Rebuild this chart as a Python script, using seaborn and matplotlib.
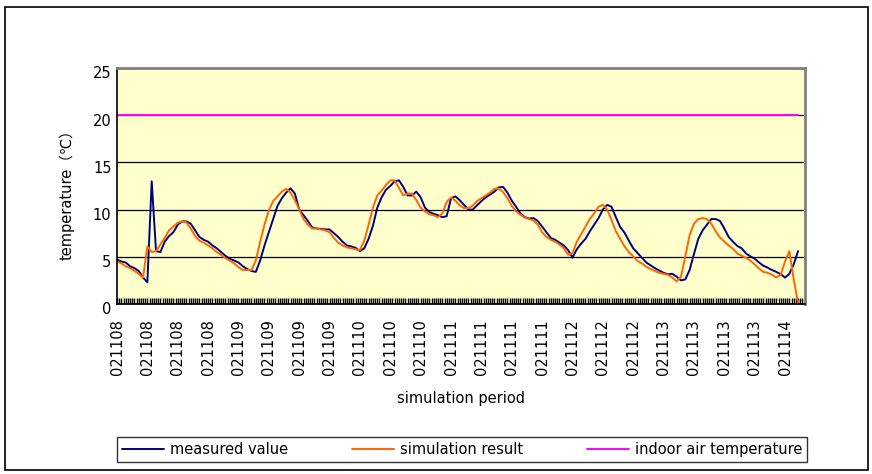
import numpy as np
import pandas as pd
import matplotlib
matplotlib.use("Agg")
import matplotlib.pyplot as plt
import matplotlib.transforms as mtransforms
from matplotlib.patches import Rectangle
import seaborn as sns

# hourly readings
measured = [
    4.7, 4.5, 4.4, 4.0, 3.8, 3.5, 2.8, 2.3, 13.0, 5.6,
    5.5, 6.6, 7.2, 7.6, 8.4, 8.75, 8.75, 8.5, 7.8, 7.1,
    6.8, 6.6, 6.2, 5.9, 5.5, 5.1, 4.8, 4.6, 4.4, 4.0,
    3.7, 3.5, 3.4, 4.6, 6.2, 7.6, 9.0, 10.4, 11.2, 11.8,
    12.25, 11.7, 10.0, 9.4, 8.8, 8.1, 8.0, 7.95, 7.9, 7.9,
    7.5, 7.1, 6.6, 6.2, 6.1, 5.95, 5.6, 5.9, 6.9, 8.3,
    10.2, 11.3, 12.1, 12.5, 13.0, 13.1, 12.4, 11.5, 11.5, 11.9,
    11.3, 10.2, 9.75, 9.55, 9.4, 9.2, 9.3, 11.2, 11.4, 11.0,
    10.5, 10.0, 10.0, 10.45, 10.9, 11.3, 11.6, 11.9, 12.35, 12.4,
    11.8, 10.95, 10.3, 9.6, 9.2, 9.05, 9.1, 8.8, 8.2, 7.6,
    7.0, 6.8, 6.5, 6.2, 5.7, 4.9, 5.8, 6.4, 6.9, 7.7,
    8.4, 9.1, 10.0, 10.5, 10.3, 9.2, 8.15, 7.55, 6.7, 5.9,
    5.4, 4.9, 4.4, 4.1, 3.8, 3.55, 3.3, 3.15, 3.2, 2.9,
    2.5, 2.6, 3.6, 5.3, 6.9, 7.8, 8.4, 9.0, 9.0, 8.8,
    8.0, 7.1, 6.6, 6.15, 5.9, 5.35, 5.05, 4.8, 4.4, 4.05,
    3.85, 3.6, 3.4, 3.15, 2.8, 3.2, 4.2, 5.6,
]
simulated = [
    4.5, 4.3, 4.0, 3.8, 3.5, 3.2, 2.8, 6.1, 5.5, 5.6,
    6.3, 7.0, 7.8, 8.2, 8.6, 8.75, 8.65, 8.0, 7.2, 6.7,
    6.5, 6.2, 5.9, 5.5, 5.2, 4.85, 4.6, 4.3, 3.9, 3.6,
    3.6, 3.6, 4.6, 6.6, 8.4, 9.9, 10.9, 11.4, 11.9, 12.2,
    11.8, 11.0, 10.0, 9.0, 8.4, 8.0, 8.0, 7.9, 7.8, 7.6,
    7.0, 6.5, 6.2, 6.0, 5.9, 5.8, 5.7, 6.7, 8.4, 10.2,
    11.5, 12.0, 12.6, 13.1, 13.1, 12.3, 11.5, 11.7, 11.7, 11.0,
    10.2, 9.8, 9.5, 9.4, 9.2, 9.6, 10.8, 11.3, 10.95, 10.45,
    10.15, 10.15, 10.4, 10.9, 11.2, 11.5, 11.8, 12.2, 12.25, 11.85,
    11.2, 10.4, 9.8, 9.45, 9.15, 9.0, 8.85, 8.4, 7.6, 7.1,
    6.8, 6.6, 6.3, 5.9, 5.2, 5.4, 6.6, 7.4, 8.2, 9.0,
    9.6, 10.3, 10.5, 10.0, 8.9, 7.7, 6.9, 6.1, 5.5, 5.05,
    4.55, 4.3, 3.95, 3.7, 3.5, 3.3, 3.2, 3.1, 2.8, 2.4,
    2.9, 5.0, 7.3, 8.5, 9.0, 9.1, 9.0, 8.5, 7.7, 7.05,
    6.6, 6.2, 5.85, 5.35, 5.1, 4.9, 4.6, 4.2, 3.75, 3.4,
    3.3, 3.1, 2.8, 3.1, 4.5, 5.6, 2.6, 0.1,
]
indoor = [20.0] * len(measured)

date_labels = [
    "021108", "021108", "021108", "021108",
    "021109", "021109", "021109", "021109",
    "021110", "021110", "021110",
    "021111", "021111", "021111", "021111",
    "021112", "021112", "021112",
    "021113", "021113", "021113", "021113",
    "021114",
]

series_names = ["measured value", "simulation result", "indoor air temperature"]
series_colors = ["#000080", "#FF6600", "#FF00FF"]

sns.set_style("white")
plt.rcParams["font.family"] = ["DejaVu Sans", "Noto Sans CJK JP"]
plt.rcParams["text.color"] = "black"
plt.rcParams["xtick.color"] = "black"
plt.rcParams["ytick.color"] = "black"

W, H = 872, 474
fig = plt.figure(figsize=(W / 100, H / 100), dpi=100)
ax = fig.add_axes([117 / W, 1 - 304 / H, 688 / W, 236 / H])
ax.set_facecolor("#FFFFCC")

steps = np.arange(len(measured))
df = pd.DataFrame({
    "step": np.tile(steps, 3),
    "temp": measured + simulated + indoor,
    "series": np.repeat(series_names, len(steps)),
})
sns.lineplot(data=df, x="step", y="temp", hue="series", hue_order=series_names,
             palette=series_colors, estimator=None, sort=False, linewidth=1.4,
             ax=ax, legend=False)

ax.set_ylim(0, 25)
ax.set_xlim(0, 158.6)
ax.set_yticks(np.arange(0, 26, 5))
ax.yaxis.grid(True, color="black", linewidth=0.9)
ax.xaxis.grid(False)
ax.set_axisbelow(True)
ax.set_xlabel("")
ax.set_ylabel("")

for side in ["top", "right"]:
    ax.spines[side].set_color("#808080")
    ax.spines[side].set_linewidth(2)
for side in ["left", "bottom"]:
    ax.spines[side].set_color("black")
    ax.spines[side].set_linewidth(1.2)

ax.set_xticks(np.arange(0, len(date_labels) * 7, 7))
ax.set_xticklabels(date_labels, rotation=90)
ax.set_xticks(np.arange(0, 158.6, 0.5), minor=True)
ax.tick_params(axis="x", which="both", direction="in", length=4, width=1.0,
               color="black", bottom=True)
ax.tick_params(axis="x", which="major", pad=11, labelsize=10.5, labelcolor="black")
ax.tick_params(axis="y", length=0, pad=4, labelsize=10.5, labelcolor="black")

# Excel draws the value labels a little below their gridlines
shift = mtransforms.ScaledTranslation(0, -0.045, fig.dpi_scale_trans)
for lbl in ax.get_yticklabels():
    lbl.set_transform(lbl.get_transform() + shift)

fig.text(67 / W, 1 - 191 / H, "temperature（℃）", rotation=90,
         ha="center", va="center", fontsize=10.5, color="black")
fig.text(461 / W, 1 - 398 / H, "simulation period",
         ha="center", va="center", fontsize=10.5, color="black")

leg = fig.legend(ax.get_lines()[:3], series_names, loc="lower left",
                 bbox_to_anchor=(117 / W, 1 - 462 / H, 690 / W, 24 / H),
                 mode="expand", ncol=3, frameon=True, fancybox=False,
                 edgecolor="black", handlelength=2.9, handletextpad=0.35,
                 columnspacing=0.6, borderaxespad=0, borderpad=0.35,
                 fontsize=10.5)
leg.get_frame().set_linewidth(1)
for txt in leg.get_texts():
    txt.set_color("black")

fig.add_artist(Rectangle((5 / W, 4 / H), 863 / W, 463 / H, transform=fig.transFigure,
                         fill=False, edgecolor="black", linewidth=1.2))

fig.savefig("out.png", dpi=100)
